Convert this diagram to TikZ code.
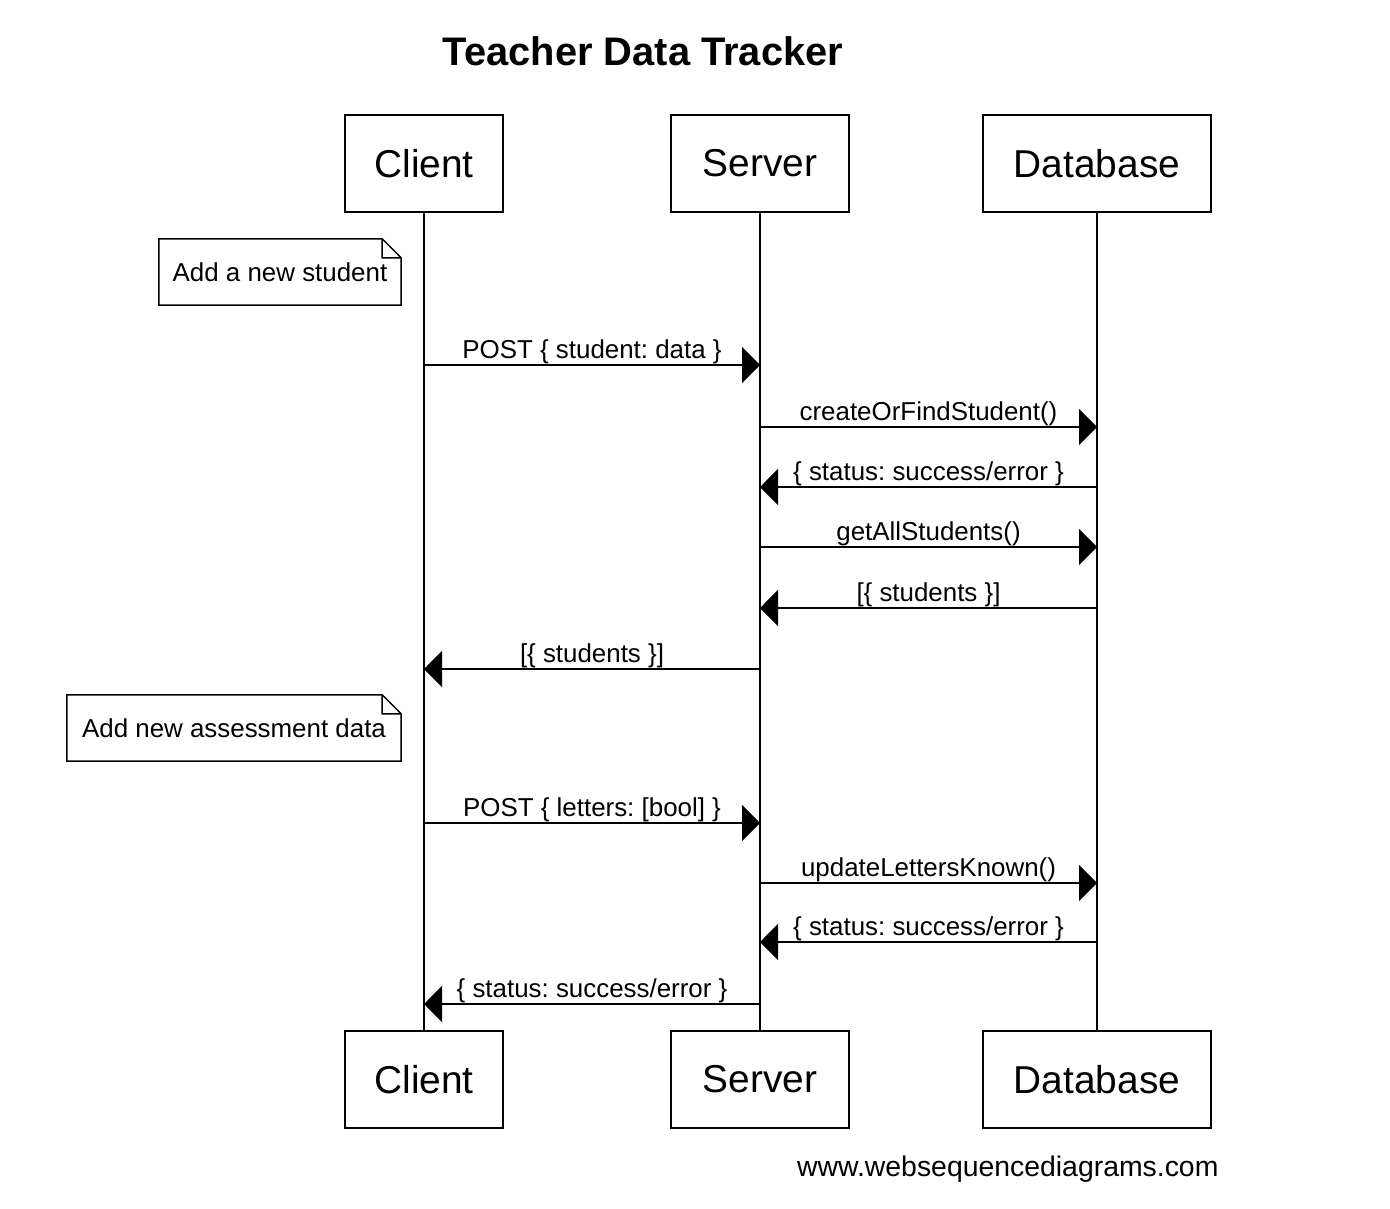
\documentclass[tikz,border=0pt]{standalone}
\usepackage{fontspec}
\setmainfont{Liberation Sans}
\usetikzlibrary{arrows.meta}
\frenchspacing
\tikzset{
  actor/.style={draw, line width=1.5bp, minimum height=97bp, inner sep=0pt, font=\fontsize{39}{46}\selectfont},
  msg/.style={line width=1.5bp, -{Triangle[length=18bp,width=36bp]}},
  msglabel/.style={anchor=base, yshift=7bp, inner sep=0pt, font=\fontsize{26}{31}\selectfont},
  notebox/.style={minimum height=66bp, inner sep=0pt, font=\fontsize{26}{31}\selectfont},
}
\begin{document}
\begin{tikzpicture}[x=1bp, y=-1bp]
	\useasboundingbox (0,0) rectangle (1390,1208);
	\node[anchor=base, font=\fontsize{40}{48}\selectfont\bfseries] (title) at (643,65) {Teacher Data Tracker};
	
	% participants, top and bottom, with their lifelines
	\foreach \p/\t/\x/\w in {cl/Client/424/158, sv/Server/760/178, db/Database/1097/228} {
		\node[actor, minimum width=\w bp] (\p-top) at (\x,163.5) {\t};
		\node[actor, minimum width=\w bp] (\p-bot) at (\x,1079.5) {\t};
		\draw[line width=1.5bp] (\p-top) -- (\p-bot);
	}
	
	% notes
	\node[notebox, minimum width=242bp] (note1) at (280,272) {Add a new student};
	\node[notebox, minimum width=334bp] (note2) at (234,728) {Add new assessment data};
	\foreach \n in {note1, note2}
		\draw[line width=1.5bp, line join=miter] (\n.south west) -- (\n.north west) -- ([xshift=-19bp]\n.north east) -- ([yshift=-19bp]\n.north east) -- (\n.south east) -- cycle
			([xshift=-19bp]\n.north east) -- ([xshift=-19bp,yshift=-19bp]\n.north east) -- ([yshift=-19bp]\n.north east);
	
	% messages
	\foreach \y/\a/\b/\t [count=\i] in {
		365/cl/sv/{POST \{ student: data \}},
		427/sv/db/{createOrFindStudent()},
		487/db/sv/{\{ status: success/error \}},
		547/sv/db/{getAllStudents()},
		608/db/sv/{[\{ students \}]},
		669/sv/cl/{[\{ students \}]},
		823/cl/sv/{POST \{ letters: [bool] \}},
		883/sv/db/{updateLettersKnown()},
		942/db/sv/{\{ status: success/error \}},
		1004/sv/cl/{\{ status: success/error \}}} {
		\coordinate (m\i) at (0,\y);
		\draw[msg] (\a-top |- m\i) -- (\b-top |- m\i) node[msglabel, midway] {\t};
	}
	
	\node[anchor=base east, font=\fontsize{28.5}{34}\selectfont] (credit) at (1222,1176) {www.websequencediagrams.com};
\end{tikzpicture}
\end{document}
